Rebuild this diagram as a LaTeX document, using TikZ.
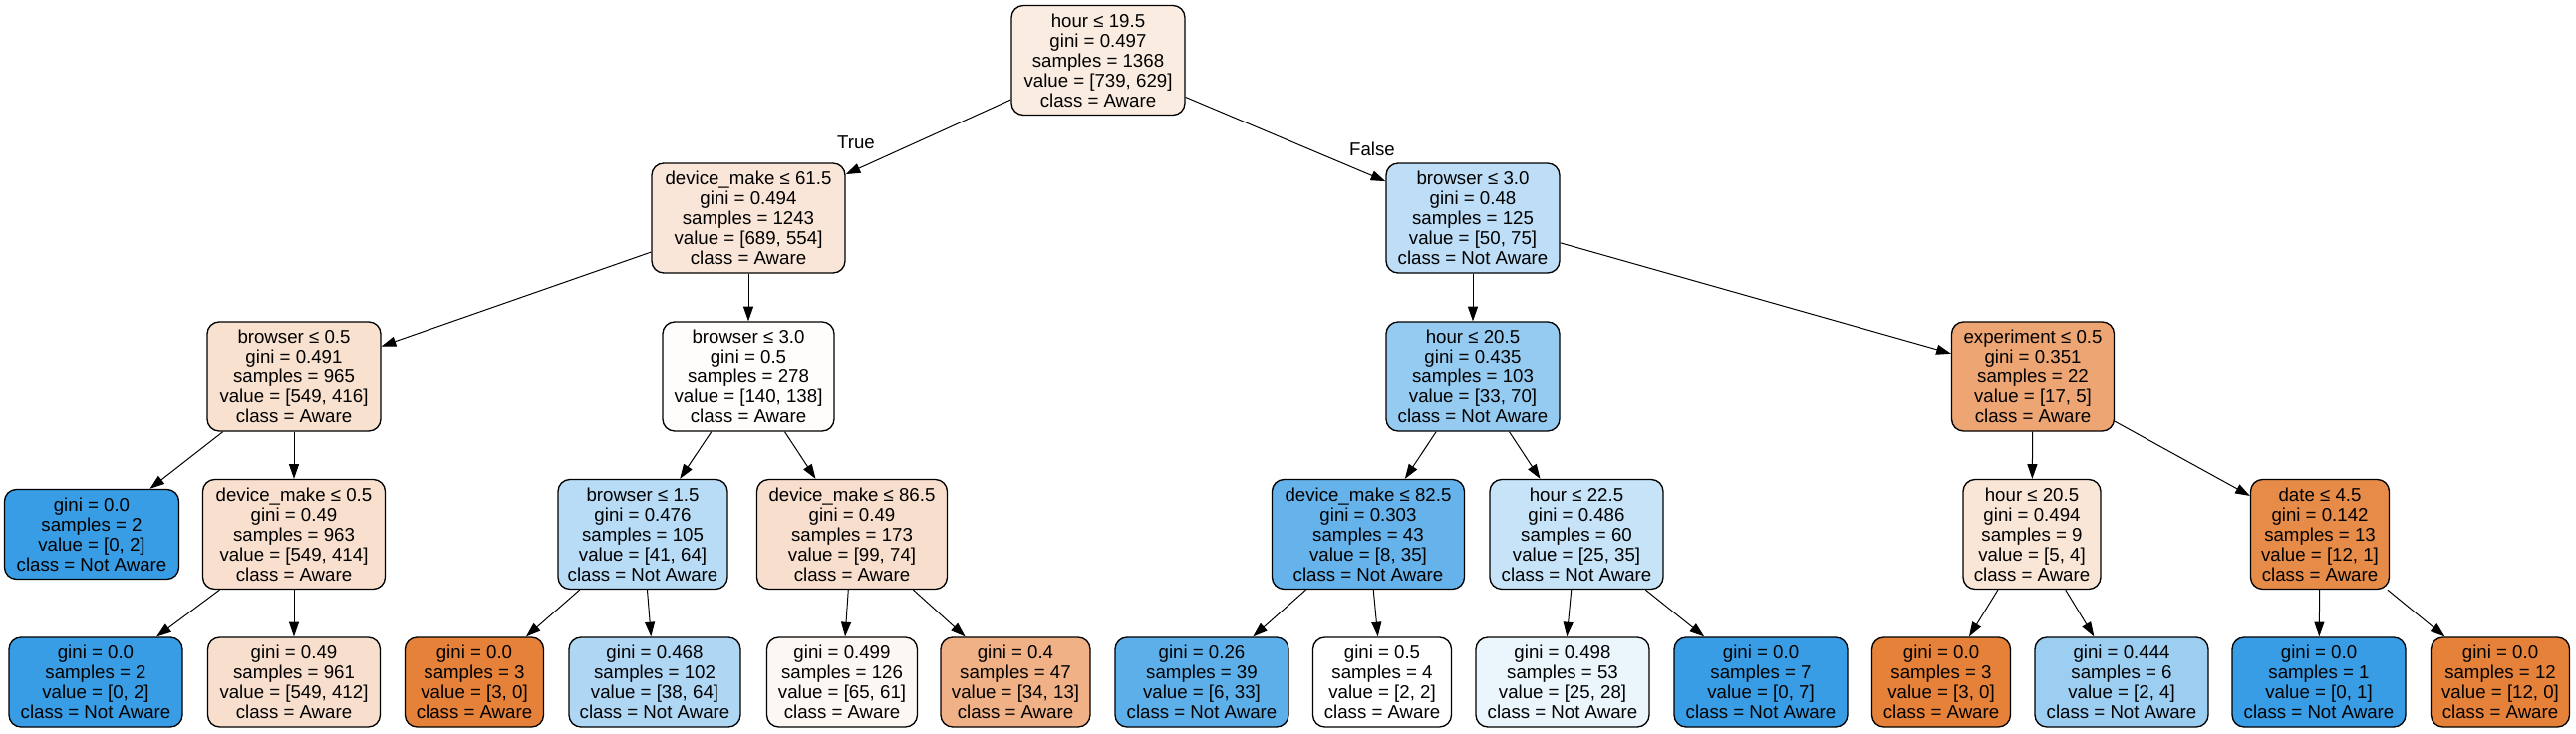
\documentclass[tikz,border=0pt]{standalone}
\usepackage{fontspec}
\setmainfont{Liberation Sans}
\usetikzlibrary{arrows.meta}
\definecolor{aw}{RGB}{229,129,57}
\definecolor{na}{RGB}{57,157,229}
\tikzset{
  bw/.style={minimum width=#1*0.75pt},
  tn/.style={draw=black, line width=1pt, rounded corners=9pt, inner sep=0pt, align=center,
    font=\fontsize{14pt}{15pt}\selectfont, minimum height=82.5pt},
  lf/.style={tn, minimum height=67.5pt},
  edge/.style={line width=0.75pt, -{Triangle[length=11pt,width=7.5pt]}},
  lbl/.style={font=\fontsize{14pt}{15pt}\selectfont, inner sep=0pt}
}
\begin{document}
\begin{tikzpicture}[x=0.75pt,y=-0.75pt]
\useasboundingbox (0,0) rectangle (2585,736);
% level 0
\node[tn, fill=aw!14.9!white, bw=174] (n0) at (1102,60.5) {hour ≤ 19.5\\gini = 0.497\\samples = 1368\\value = [739, 629]\\class = Aware};
% level 1
\node[tn, fill=aw!19.6!white, bw=194] (n1) at (751,219) {device\_make ≤ 61.5\\gini = 0.494\\samples = 1243\\value = [689, 554]\\class = Aware};
\node[tn, fill=na!33.3!white, bw=174] (n2) at (1478,219) {browser ≤ 3.0\\gini = 0.48\\samples = 125\\value = [50, 75]\\class = Not Aware};
% level 2
\node[tn, fill=aw!24.2!white, bw=174] (n3) at (295,378) {browser ≤ 0.5\\gini = 0.491\\samples = 965\\value = [549, 416]\\class = Aware};
\node[tn, fill=aw!1.4!white, bw=172] (n4) at (751,378) {browser ≤ 3.0\\gini = 0.5\\samples = 278\\value = [140, 138]\\class = Aware};
\node[tn, fill=na!52.9!white, bw=174] (n5) at (1478,378) {hour ≤ 20.5\\gini = 0.435\\samples = 103\\value = [33, 70]\\class = Not Aware};
\node[tn, fill=aw!70.6!white, bw=163] (n6) at (2040,378) {experiment ≤ 0.5\\gini = 0.351\\samples = 22\\value = [17, 5]\\class = Aware};
% level 3
\node[lf, fill=na, bw=175] (n7) at (92,536.5) {gini = 0.0\\samples = 2\\value = [0, 2]\\class = Not Aware};
\node[tn, fill=aw!24.6!white, bw=183] (n8) at (295,536.5) {device\_make ≤ 0.5\\gini = 0.49\\samples = 963\\value = [549, 414]\\class = Aware};
\node[tn, fill=na!35.9!white, bw=170] (n9) at (645,536.5) {browser ≤ 1.5\\gini = 0.476\\samples = 105\\value = [41, 64]\\class = Not Aware};
\node[tn, fill=aw!25.3!white, bw=191] (n10) at (855,536.5) {device\_make ≤ 86.5\\gini = 0.49\\samples = 173\\value = [99, 74]\\class = Aware};
\node[tn, fill=na!77.1!white, bw=193] (n11) at (1373,536.5) {device\_make ≤ 82.5\\gini = 0.303\\samples = 43\\value = [8, 35]\\class = Not Aware};
\node[tn, fill=na!28.6!white, bw=174] (n12) at (1582,536.5) {hour ≤ 22.5\\gini = 0.486\\samples = 60\\value = [25, 35]\\class = Not Aware};
\node[tn, fill=aw!20!white, bw=138] (n13) at (2039,536.5) {hour ≤ 20.5\\gini = 0.494\\samples = 9\\value = [5, 4]\\class = Aware};
\node[tn, fill=aw!91.7!white, bw=139] (n14) at (2328,536.5) {date ≤ 4.5\\gini = 0.142\\samples = 13\\value = [12, 1]\\class = Aware};
% level 4
\node[lf, fill=na, bw=174] (n15) at (96,685) {gini = 0.0\\samples = 2\\value = [0, 2]\\class = Not Aware};
\node[lf, fill=aw!25!white, bw=173] (n16) at (295,685) {gini = 0.49\\samples = 961\\value = [549, 412]\\class = Aware};
\node[lf, fill=aw, bw=139] (n17) at (476,685) {gini = 0.0\\samples = 3\\value = [3, 0]\\class = Aware};
\node[lf, fill=na!40.6!white, bw=172] (n18) at (657,685) {gini = 0.468\\samples = 102\\value = [38, 64]\\class = Not Aware};
\node[lf, fill=aw!6.2!white, bw=151] (n19) at (845,685) {gini = 0.499\\samples = 126\\value = [65, 61]\\class = Aware};
\node[lf, fill=aw!61.8!white, bw=150] (n20) at (1019,685) {gini = 0.4\\samples = 47\\value = [34, 13]\\class = Aware};
\node[lf, fill=na!81.8!white, bw=174] (n21) at (1206,685) {gini = 0.26\\samples = 39\\value = [6, 33]\\class = Not Aware};
\node[lf, fill=white, bw=139] (n22) at (1387,685) {gini = 0.5\\samples = 4\\value = [2, 2]\\class = Aware};
\node[lf, fill=na!10.7!white, bw=174] (n23) at (1568,685) {gini = 0.498\\samples = 53\\value = [25, 28]\\class = Not Aware};
\node[lf, fill=na, bw=174] (n24) at (1767,685) {gini = 0.0\\samples = 7\\value = [0, 7]\\class = Not Aware};
\node[lf, fill=aw, bw=139] (n25) at (1948,685) {gini = 0.0\\samples = 3\\value = [3, 0]\\class = Aware};
\node[lf, fill=na!50!white, bw=174] (n26) at (2129,685) {gini = 0.444\\samples = 6\\value = [2, 4]\\class = Not Aware};
\node[lf, fill=na, bw=174] (n27) at (2327,685) {gini = 0.0\\samples = 1\\value = [0, 1]\\class = Not Aware};
\node[lf, fill=aw, bw=139] (n28) at (2509,685) {gini = 0.0\\samples = 12\\value = [12, 0]\\class = Aware};
% edges
\draw[edge] (n0) -- (n1);
\draw[edge] (n0) -- (n2);
\draw[edge] (n1) -- (n3);
\draw[edge] (n1) -- (n4);
\draw[edge] (n2) -- (n5);
\draw[edge] (n2) -- (n6);
\draw[edge] (n3) -- (n7);
\draw[edge] (n3) -- (n8);
\draw[edge] (n4) -- (n9);
\draw[edge] (n4) -- (n10);
\draw[edge] (n5) -- (n11);
\draw[edge] (n5) -- (n12);
\draw[edge] (n6) -- (n13);
\draw[edge] (n6) -- (n14);
\draw[edge] (n8) -- (n15);
\draw[edge] (n8) -- (n16);
\draw[edge] (n9) -- (n17);
\draw[edge] (n9) -- (n18);
\draw[edge] (n10) -- (n19);
\draw[edge] (n10) -- (n20);
\draw[edge] (n11) -- (n21);
\draw[edge] (n11) -- (n22);
\draw[edge] (n12) -- (n23);
\draw[edge] (n12) -- (n24);
\draw[edge] (n13) -- (n25);
\draw[edge] (n13) -- (n26);
\draw[edge] (n14) -- (n27);
\draw[edge] (n14) -- (n28);
% labels
\node[lbl] (tl) at (859,143) {True};
\node[lbl] (fl) at (1377,150) {False};
\end{tikzpicture}
\end{document}
